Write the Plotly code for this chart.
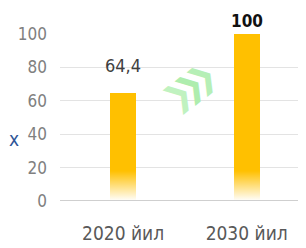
import plotly.graph_objects as go

categories = ["2020 йил", "2030 йил"]
values = [64.4, 100]
value_labels = ["64,4", "100"]
y_ticks = [0, 20, 40, 60, 80, 100]

BAR = "#FFC000"
FONT = "DejaVu Sans Condensed, Liberation Sans Narrow, Liberation Sans, sans-serif"

fig = go.Figure()
fig.add_trace(go.Bar(
    x=categories, y=values, width=0.21,
    marker=dict(color=BAR, line=dict(width=0)),
    hoverinfo="skip",
))
# white fade over the bottom of the bars
fig.add_trace(go.Scatter(
    x=[-0.6, -0.6, 1.6, 1.6], y=[0, 18, 18, 0], xaxis="x2",
    mode="lines", line=dict(width=0), fill="toself",
    fillgradient=dict(type="vertical", start=0, stop=18,
                      colorscale=[[0, "rgba(255,255,255,1)"], [0.3, "rgba(255,255,255,0.7)"],
                                  [1, "rgba(255,255,255,0)"]]),
    hoverinfo="skip", showlegend=False,
))

annotations = []
shifts = [15, 1]
styles = [dict(color="#404040", size=18), dict(color="#111111", size=17, weight="bold")]
for cat, val, lab, ys, st in zip(categories, values, value_labels, shifts, styles):
    annotations.append(dict(x=cat, y=val, text=lab, showarrow=False, yanchor="bottom",
                            yshift=ys, font=dict(family=FONT, **st)))

# green chevrons
for dx, dy, col in [(-12, -9, "#C0F2C0"), (0, 0, "#AEEDAE"), (12, 9, "#B6EFB6")]:
    annotations.append(dict(x=0.54, y=69, xref="x", yref="y", text="❯", showarrow=False,
                            xshift=dx, yshift=dy, textangle=-40,
                            font=dict(family="DejaVu Sans", size=32, color=col)))
# cropped blue letter at the left edge
annotations.append(dict(x=0, y=0.37, xref="paper", yref="paper", xanchor="left",
                        xshift=-53, text="х", showarrow=False,
                        font=dict(family=FONT, size=19, color="#2E5597")))

fig.update_layout(
    width=298, height=240,
    margin=dict(l=52, r=0, t=26, b=47, autoexpand=False),
    paper_bgcolor="white", plot_bgcolor="white",
    showlegend=False,
    bargap=0,
    annotations=annotations,
    xaxis=dict(range=[-0.51, 1.48], showgrid=False, zeroline=False, showline=False,
               automargin=False,
               tickfont=dict(family=FONT, size=19, color="#595959"), ticklabelstandoff=19,
               fixedrange=True),
    xaxis2=dict(range=[-0.51, 1.48], overlaying="x", visible=False, fixedrange=True),
    yaxis=dict(range=[0, 100], tickvals=y_ticks, showgrid=True, gridcolor="#E3E3E3", gridwidth=1,
               zeroline=False, showline=False, automargin=False,
               tickfont=dict(family=FONT, size=17, color="#808080"), ticklabelstandoff=12,
               fixedrange=True),
    shapes=[dict(type="line", xref="paper", yref="y", x0=0, x1=1, y0=0, y1=0,
                 line=dict(color="#CFCFCF", width=2), layer="above")],
)

fig.write_html("out.html")
